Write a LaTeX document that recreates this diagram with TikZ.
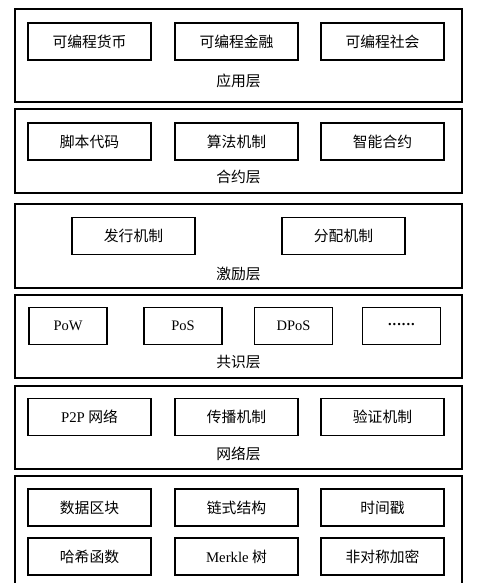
\documentclass[tikz,border=0pt]{standalone}
\usepackage{fontspec}
\setmainfont{Liberation Serif}
\newfontfamily\cjk{Noto Sans CJK SC}
\begin{document}
\begin{tikzpicture}[x=1pt, y=-1pt]

    % Estilos
    \tikzset{
        camada/.style={draw, line width=1.1pt},
        caixa/.style={draw, line width=1.1pt, minimum width=123pt,
            minimum height=37pt, inner sep=0pt,
            font=\fontsize{14.8}{16}\selectfont\cjk},
        caixapeq/.style={caixa, minimum width=78pt},
        latim/.style={font=\fontsize{14.5}{16}\selectfont\rmfamily},
        rotulo/.style={inner sep=0pt, font=\fontsize{14.8}{16}\selectfont\cjk}
    }

    \useasboundingbox (0,0) rectangle (480,583);
    \clip (0,0) rectangle (480,583);

    % --------------------
    % Camada de aplicacao
    % --------------------
    \draw[camada] (15,9) rectangle (462,102);
    \node[caixa] (apl1) at (89.5,41.5) {可编程货币};
    \node[caixa] (apl2) at (236.5,41.5) {可编程金融};
    \node[caixa] (apl3) at (382.5,41.5) {可编程社会};
    \node[rotulo] (apl) at (238.5,81) {应用层};

    % --------------------
    % Camada de contrato
    % --------------------
    \draw[camada] (15,109) rectangle (462,193);
    \node[caixa] (con1) at (89.5,141.5) {脚本代码};
    \node[caixa] (con2) at (236.5,141.5) {算法机制};
    \node[caixa] (con3) at (382.5,141.5) {智能合约};
    \node[rotulo] (con) at (238.5,177) {合约层};

    % --------------------
    % Camada de incentivo
    % --------------------
    \draw[camada] (15,204) rectangle (462,288);
    \node[caixa] (inc1) at (133.5,236) {发行机制};
    \node[caixa] (inc2) at (343.5,236) {分配机制};
    \node[rotulo] (inc) at (238.5,274) {激励层};

    % --------------------
    % Camada de consenso
    % --------------------
    \draw[camada] (15,295) rectangle (462,378);
    \node[caixapeq, latim] (cns1) at (68,326) {PoW};
    \node[caixapeq, latim] (cns2) at (183,326) {PoS};
    \node[caixapeq, latim] (cns3) at (293.5,326) {DPoS};
    \node[caixapeq, latim] (cns4) at (401.5,326)
        {\raisebox{0.35ex}{\textbf{.\kern1pt.\kern1pt.\kern1pt.\kern1pt.\kern1pt.}}};
    \node[rotulo] (cns) at (238.5,362) {共识层};

    % --------------------
    % Camada de rede
    % --------------------
    \draw[camada] (15,386) rectangle (462,469);
    \node[caixa] (red1) at (89.5,417) {{\rmfamily P2P} 网络};
    \node[caixa] (red2) at (236.5,417) {传播机制};
    \node[caixa] (red3) at (382.5,417) {验证机制};
    \node[rotulo] (red) at (238.5,454) {网络层};

    % --------------------
    % Camada de dados
    % --------------------
    \draw[camada] (15,476) rectangle (462,600);
    \node[caixa] (dad1) at (89.5,507.5) {数据区块};
    \node[caixa] (dad2) at (236.5,507.5) {链式结构};
    \node[caixa] (dad3) at (382.5,507.5) {时间戳};
    \node[caixa] (dad4) at (89.5,556.5) {哈希函数};
    \node[caixa] (dad5) at (236.5,556.5) {{\rmfamily Merkle} 树};
    \node[caixa] (dad6) at (382.5,556.5) {非对称加密};

\end{tikzpicture}
\end{document}
